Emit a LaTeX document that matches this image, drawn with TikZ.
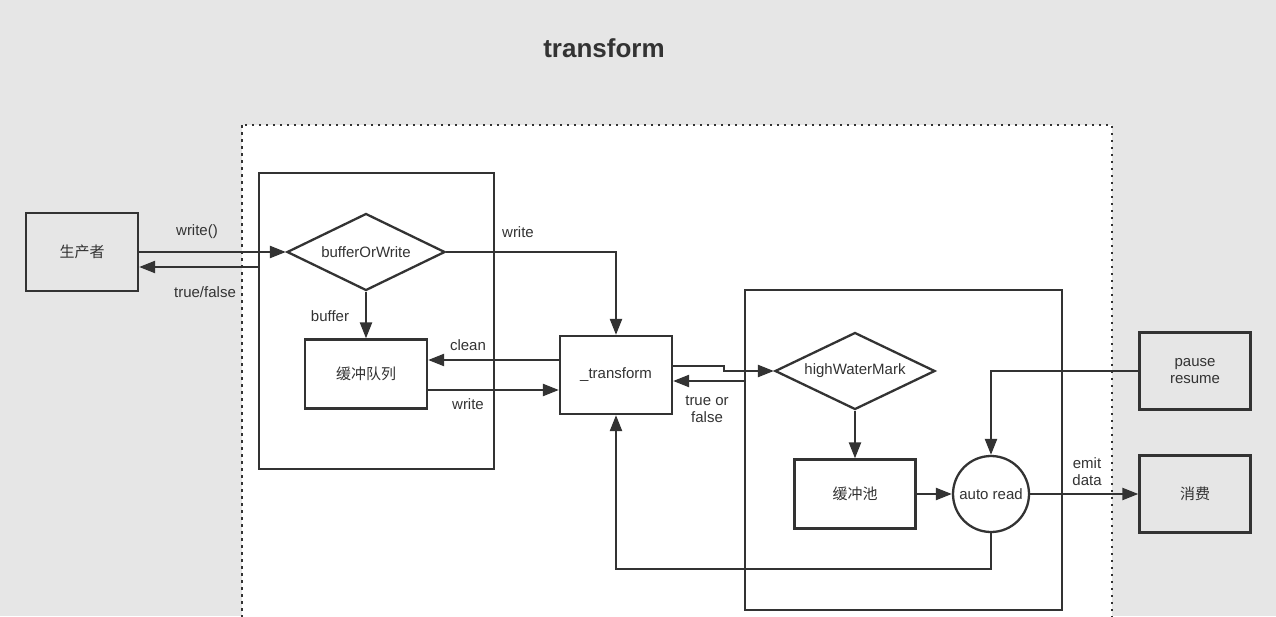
\documentclass[tikz,border=0pt]{standalone}
\usepackage{fontspec}
\setmainfont{Liberation Sans}
\newfontfamily\cjk{Noto Sans CJK SC}
\usetikzlibrary{arrows.meta,shapes.geometric}
\definecolor{bgGray}{HTML}{E6E6E6}
\definecolor{ink}{HTML}{333333}

\begin{document}
\begin{tikzpicture}[x=1pt,y=-1pt,
  color=ink, line width=2.3pt, font=\fontsize{15}{17}\selectfont,
  >={Triangle[length=16pt,width=12pt]},
  box/.style={draw, rectangle, inner sep=0pt},
  decide/.style={draw, diamond, aspect=2, inner sep=0pt, minimum width=158pt, minimum height=77pt},
  lbl/.style={inner sep=0pt, align=center}]
\useasboundingbox[fill=bgGray] (0,0) rectangle (1276,616);
\clip (0,0) rectangle (1276,616);
\draw[fill=white, line width=2.5pt, dash pattern=on 2.5pt off 4.5pt] (242,125) rectangle (1112,640);

\node[font=\bfseries\fontsize{26}{30}\selectfont] (title) at (604,48) {transform};

% the two stages
\node[box, minimum width=235pt, minimum height=296pt] (lbox) at (376.5,321) {};
\node[box, minimum width=317pt, minimum height=320pt] (rbox) at (903.5,450) {};

\node[box, minimum width=112pt, minimum height=78pt] (prod) at (82,252) {\cjk 生产者};
\node[decide] (bow) at (366,252) {bufferOrWrite};
\node[box, minimum width=122pt, minimum height=69pt] (queue) at (366,374) {\cjk 缓冲队列};
\node[box, minimum width=112pt, minimum height=78pt] (tf) at (616,375) {\_transform};
\node[decide, minimum width=160pt] (hwm) at (855,371) {highWaterMark};
\node[box, minimum width=121pt, minimum height=69pt] (pool) at (855,494) {\cjk 缓冲池};
\node[draw, circle, inner sep=0pt, minimum size=76pt] (ar) at (991,494) {auto read};
\node[box, minimum width=111pt, minimum height=77pt, align=center] (pr) at (1195,371) {pause\\resume};
\node[box, minimum width=111pt, minimum height=77pt] (cons) at (1195,494) {\cjk 消费};

% connectors
\draw[->] (prod.east) -- (bow.west);
\coordinate (back) at ([yshift=-15pt]prod.east -| lbox.west);
\draw[->] (back) -- (back -| prod.east);
\draw[->] (bow.east) -| (tf.north);
\draw[->] (bow.south) -- (queue.north);
\coordinate (cl) at ([yshift=15pt]tf.west);
\draw[->] (cl) -- (cl -| queue.east);
\coordinate (wr) at ([yshift=-15pt]tf.west -| queue.east);
\draw[->] (wr) -- (wr -| tf.west);
\draw[->] ([yshift=9pt]tf.east) -- ++(51,0) |- (hwm.west);
\coordinate (tof) at ([yshift=-6pt]tf.east -| rbox.west);
\draw[->] (tof) -- (tof -| tf.east);
\draw[->] (hwm.south) -- (pool.north);
\draw[->] (pool.east) -- (ar.west);
\draw[->] (pr.west) -| (ar.north);
\draw[->] (ar.east) -- (cons.west);
\draw[->] (ar.south) -- ++(0,36) -| (tf.south);

% labels
\node[lbl] (wlbl) at (197,232) {write()};
\node[lbl] (tflbl) at (205,292) {true/false};
\node[lbl] (buflbl) at (330,316) {buffer};
\node[lbl] (wlbl2) at (518,232) {write};
\node[lbl] (cllbl) at (468,345) {clean};
\node[lbl] (wlbl3) at (468,404) {write};
\node[lbl] (tolbl) at (707,409) {true or\\false};
\node[lbl] (emlbl) at (1087,472) {emit\\data};
\end{tikzpicture}
\end{document}
